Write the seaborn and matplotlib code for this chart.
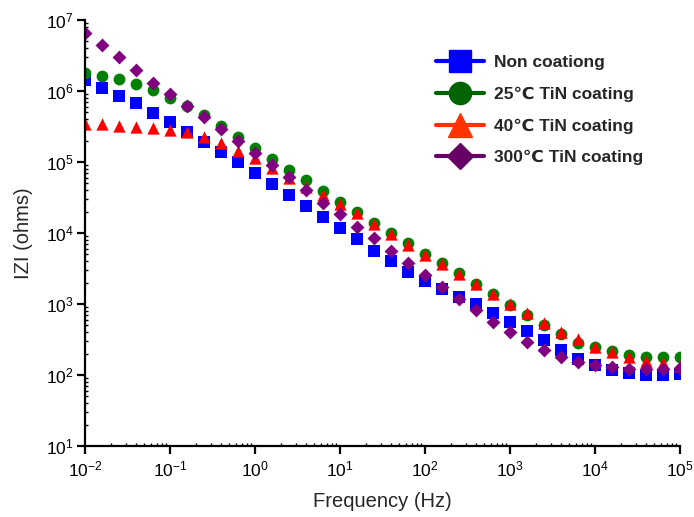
import numpy as np
import pandas as pd
import matplotlib
matplotlib.use("Agg")
import matplotlib.pyplot as plt
from matplotlib.lines import Line2D
from matplotlib.ticker import LogLocator
import seaborn as sns

# Frequency sweep: 5 points per decade, 1e-2 .. 1e5 Hz
freq_hz = np.logspace(-2, 5, 36)

non_coating = [1.43e6, 1.11e6, 8.51e5, 6.72e5, 4.95e5, 3.70e5, 2.67e5, 1.93e5, 1.40e5, 9.91e4,
               6.93e4, 4.85e4, 3.43e4, 2.40e4, 1.66e4, 1.16e4, 8.15e3, 5.64e3, 3.99e3, 2.85e3,
               2.14e3, 1.63e3, 1.26e3, 984, 754, 564, 421, 311, 225, 170,
               138, 118, 106, 100, 100, 103]
tin_25c = [1.77e6, 1.64e6, 1.47e6, 1.27e6, 1.03e6, 8.05e5, 6.15e5, 4.55e5, 3.21e5, 2.27e5,
           1.59e5, 1.12e5, 7.84e4, 5.57e4, 3.94e4, 2.76e4, 1.96e4, 1.40e4, 9.91e3, 7.16e3,
           5.06e3, 3.78e3, 2.70e3, 1.91e3, 1.38e3, 968, 700, 506, 378, 285,
           245, 220, 191, 181, 178, 178]
tin_40c = [3.40e5, 3.43e5, 3.21e5, 3.14e5, 3.04e5, 2.82e5, 2.62e5, 2.23e5, 1.83e5, 1.44e5,
           1.13e5, 8.15e4, 6.02e4, 4.49e4, 3.43e4, 2.56e4, 1.89e4, 1.34e4, 9.68e3, 6.84e3,
           4.90e3, 3.66e3, 2.65e3, 1.91e3, 1.38e3, 1.00e3, 740, 546, 408, 321,
           246, 213, 181, 157, 146, 134]
tin_300c = [6.50e6, 4.45e6, 2.99e6, 1.98e6, 1.31e6, 9.08e5, 6.15e5, 4.27e5, 2.92e5, 2.00e5,
            1.35e5, 9.08e4, 6.10e4, 4.04e4, 2.67e4, 1.83e4, 1.23e4, 8.41e3, 5.64e3, 3.82e3,
            2.56e3, 1.75e3, 1.17e3, 822, 564, 399, 294, 225, 181, 154,
            138, 131, 122, 120, 122, 124]

series_labels = ["Non coationg", "25\u2103 TiN coating", "40\u2103 TiN coating", "300\u2103 TiN coating"]
series_values = [non_coating, tin_25c, tin_40c, tin_300c]

x_ticks = [1e-2, 1e-1, 1e0, 1e1, 1e2, 1e3, 1e4, 1e5]
y_ticks = [1e1, 1e2, 1e3, 1e4, 1e5, 1e6, 1e7]

marker_colors = ["#0000ff", "#008000", "#ff0000", "#800080"]
legend_colors = ["#0000ff", "#006400", "#ff3300", "#660066"]
marker_shapes = ["s", "o", "^", "D"]

df = pd.concat(
    [pd.DataFrame({"freq": freq_hz, "z": vals, "sample": lab})
     for lab, vals in zip(series_labels, series_values)],
    ignore_index=True,
)

sns.set_style("ticks")
plt.rcParams["font.family"] = ["Liberation Sans", "DejaVu Sans"]
plt.rcParams["mathtext.default"] = "regular"
plt.rcParams["axes.unicode_minus"] = False

fig = plt.figure(figsize=(6.94, 5.17), dpi=100)
ax = fig.add_axes([85 / 694, 1 - 446 / 517, 595 / 694, 426 / 517])

sizes = {"s": 66, "o": 72, "^": 78, "D": 50}
for lab, col, mk in zip(series_labels, marker_colors, marker_shapes):
    sns.scatterplot(data=df[df["sample"] == lab], x="freq", y="z", ax=ax,
                    color=col, marker=mk, s=sizes[mk], linewidth=0, legend=False)

ax.set_xscale("log")
ax.set_yscale("log")
ax.set_xticks(x_ticks)
ax.set_yticks(y_ticks)
ax.xaxis.set_minor_locator(LogLocator(base=10, subs=np.arange(2, 10)))
ax.yaxis.set_minor_locator(LogLocator(base=10, subs=np.arange(2, 10)))
ax.set_xlim(1e-2, 1e5)
ax.set_ylim(1e1, 1e7)

for side in ("top", "right"):
    ax.spines[side].set_visible(False)
for side in ("left", "bottom"):
    ax.spines[side].set_linewidth(1.6)
    ax.spines[side].set_color("black")

ax.tick_params(which="major", direction="out", length=6, width=1.6,
               labelsize=12.5, colors="black")
ax.tick_params(axis="x", which="major", pad=4)
ax.tick_params(axis="y", which="major", pad=2)
ax.tick_params(which="minor", direction="in", length=2, width=1.0, colors="black")

ax.set_xlabel("Frequency (Hz)", fontsize=14.5, labelpad=9)
ax.set_ylabel("IZI (ohms)", fontsize=14.5, labelpad=9)

handles = [
    Line2D([0], [0], color=lc, lw=3, marker=mk, markersize=ms,
           markerfacecolor=lc, markeredgecolor=lc)
    for lc, mk, ms in zip(legend_colors, marker_shapes, [16, 16, 17, 13])
]
leg = fig.legend(handles, series_labels, loc="upper left",
                 bbox_to_anchor=(436 / 694, 1 - 55 / 517),
                 frameon=False, borderpad=0, borderaxespad=0,
                 handlelength=2.75, handletextpad=0.6, labelspacing=0.95,
                 prop={"weight": "bold", "size": 12.5})

fig.savefig("out.png", dpi=100)
